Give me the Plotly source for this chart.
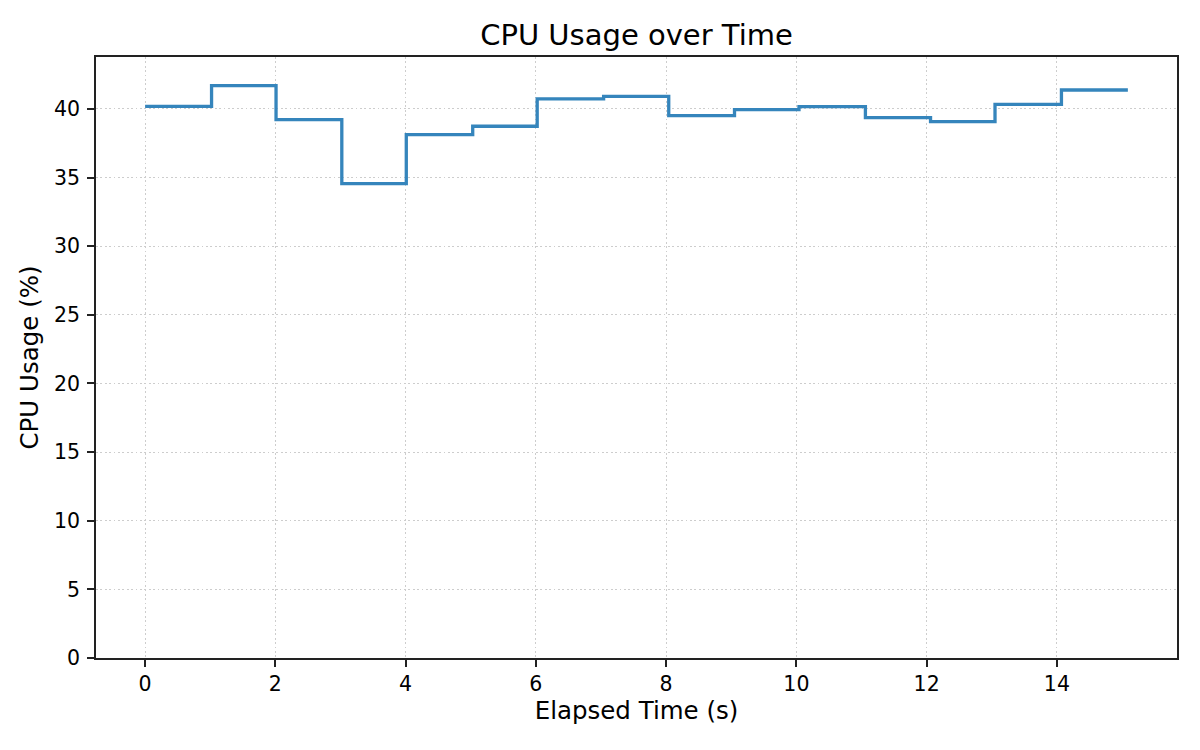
import plotly.graph_objects as go

# elapsed time (s) and cpu usage (%) samples
time_s = [0, 1.02, 2.01, 3.02, 4.01, 5.03, 6.02, 7.04, 8.04, 9.05, 10.04, 11.06, 12.06, 13.05, 14.07, 15.09]
cpu_pct = [40.19, 41.70, 39.22, 34.56, 38.13, 38.74, 40.73, 40.92, 39.51, 39.95, 40.17, 39.37, 39.08, 40.34, 41.38, 41.38]

x_ticks = [0, 2, 4, 6, 8, 10, 12, 14]
y_ticks = [0, 5, 10, 15, 20, 25, 30, 35, 40]

FONT = "DejaVu Sans"
# page body has an 8px margin, so the figure is drawn a bit smaller
OFF = 8

fig = go.Figure(go.Scatter(
    x=time_s,
    y=cpu_pct,
    mode="lines",
    line=dict(color="#3585bc", width=3.3, shape="hv"),
    showlegend=False,
))

x_pad = 0.05 * (max(time_s) - min(time_s))

axis_common = dict(
    showline=True,
    linecolor="#222222",
    linewidth=1.7,
    mirror=True,
    ticks="outside",
    ticklen=7,
    tickwidth=1.6,
    tickcolor="#222222",
    showgrid=True,
    gridcolor="#cdcdcd",
    gridwidth=1.2,
    griddash="1.7px,2.7px",
    zeroline=False,
    tickfont=dict(family=FONT, size=20.5, color="black"),
)

fig.update_xaxes(
    range=[min(time_s) - x_pad, max(time_s) + x_pad],
    tickvals=x_ticks,
    title=dict(text="Elapsed Time (s)", font=dict(family=FONT, size=24.5, color="black"), standoff=6),
    **axis_common,
)
fig.update_yaxes(
    range=[0, max(cpu_pct) * 1.05],
    tickvals=y_ticks,
    ticklabelstandoff=3,
    title=dict(text="CPU Usage (%)", font=dict(family=FONT, size=24.5, color="black"), standoff=8),
    **axis_common,
)

fig.update_layout(
    width=1200 - OFF,
    height=750 - OFF,
    margin=dict(l=96 - OFF, r=23, t=57 - OFF, b=92, autoexpand=False),
    plot_bgcolor="white",
    paper_bgcolor="white",
    font=dict(family=FONT, color="black"),
    title=dict(
        text="CPU Usage over Time",
        font=dict(family=FONT, size=29, color="black"),
        x=0.5,
        xref="paper",
        xanchor="center",
        y=1 - (45 - OFF) / (750 - OFF),
        yref="container",
        yanchor="bottom",
    ),
)

fig.write_html("out.html")
